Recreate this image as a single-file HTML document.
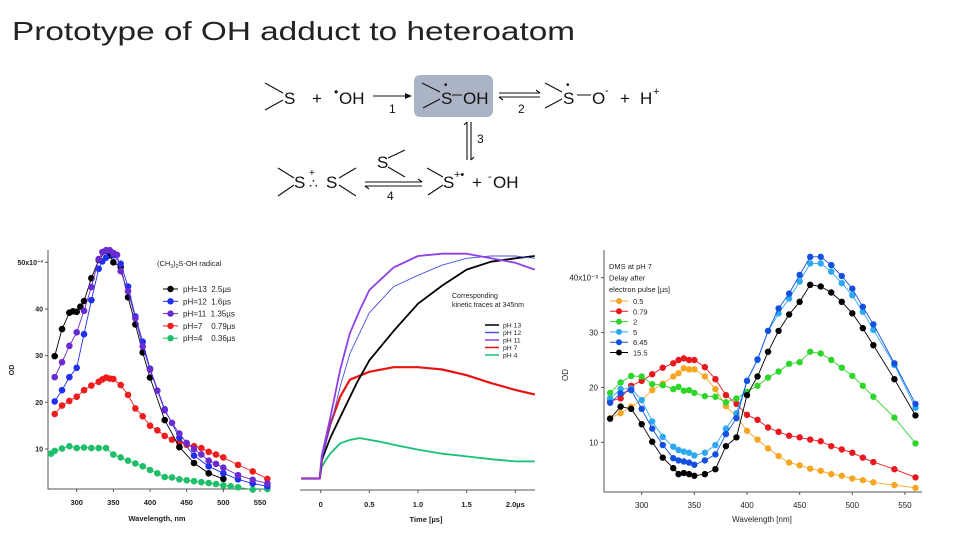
<!DOCTYPE html>
<html><head><meta charset="utf-8">
<style>
html,body{margin:0;padding:0;background:#fff;}
svg{display:block;font-family:"Liberation Sans",Arial,sans-serif;}
text{white-space:pre;}
</style></head>
<body>
<svg id="root" width="960" height="540" viewBox="0 0 960 540">
<text x="12" y="40" font-size="26" fill="#222" textLength="563" lengthAdjust="spacingAndGlyphs">Prototype of OH adduct to heteroatom</text>
<g id="scheme" font-size="17" fill="#111" stroke-width="1.1">
  <rect x="414" y="75" width="79" height="42" rx="6" fill="#aab4c6"/>
  <g stroke="#111" fill="none">
    <path d="M265 83 L283 93 M265 110 L283 100"/>
    <path d="M422 83 L440 92 M423 108 L440 99 M452 95 L462 95"/>
    <path d="M545 83 L562 92 M545 108 L562 99 M577 95 L591 95"/>
    <path d="M373 96 L410 96"/>
    <path d="M499 93 L540 93 M536 90 L540 93"/>
    <path d="M499 97 L540 97 M503 100 L499 97"/>
    <path d="M467 122 L467 160 M464 125 L467 122"/>
    <path d="M471 122 L471 160 M474 157 L471 160"/>
    <path d="M427 168 L443 177 M428 195 L443 185"/>
    <path d="M278 168 L294 178 M278 196 L294 185 M339 178 L356 168 M339 185 L356 196"/>
    <path d="M388 158 L405 150 M388 167 L405 177"/>
    <path d="M365 182 L422 182 M418 179 L422 182"/>
    <path d="M365 186 L422 186 M369 189 L365 186"/>
  </g>
  <polygon points="412,96 405,93 405,99" fill="#111"/>
  <text x="284" y="104">S</text>
  <text x="312" y="104">+</text>
  <text x="334" y="96" font-size="12">•</text>
  <text x="339" y="104">OH</text>
  <text x="389" y="113" font-size="12">1</text>
  <text x="441" y="104">S</text>
  <text x="444" y="88" font-size="10">•</text>
  <text x="463" y="104">OH</text>
  <text x="518" y="113" font-size="12">2</text>
  <text x="563" y="104">S</text>
  <text x="566" y="88" font-size="10">•</text>
  <text x="592" y="104">O</text>
  <text x="605" y="94" font-size="11">-</text>
  <text x="620" y="104">+</text>
  <text x="640" y="104">H</text>
  <text x="653" y="95" font-size="11">+</text>
  <text x="477" y="143" font-size="12">3</text>
  <text x="443" y="188">S</text>
  <text x="454" y="178" font-size="11">+•</text>
  <text x="472" y="188">+</text>
  <text x="488" y="180" font-size="11">-</text>
  <text x="493" y="188">OH</text>
  <text x="294" y="188">S</text>
  <text x="309" y="188" font-size="14">∴</text>
  <text x="309" y="176" font-size="10">+</text>
  <text x="326" y="188">S</text>
  <text x="377" y="168">S</text>
  <text x="387" y="200" font-size="12">4</text>
</g>
<g id="c1"></g>
<g id="c2"></g>
<g id="c3"></g>
</svg>
<script>
// ---------- Chart 1 data ----------
const c1Names = ["pH=13  2.5\u00b5s","pH=12  1.6\u00b5s","pH=11  1.35\u00b5s","pH=7    0.79\u00b5s","pH=4    0.36\u00b5s"];
const c1Colors = ["#000000","#1f2ff0","#6a2bd0","#ee1c1c","#1fbf6a"];
const c1XTicks = [300,350,400,450,500,550];
const c1YTicks = [10,20,30,40,50];
const c1W13 = [270,280,290,295,300,305,310,320,330,340,345,350,360,370,380,390,400,420,440,460,480,500];
const c1V13 = [29.9,35.7,39.2,39.5,39.4,40.5,41.7,46.6,50.5,52.5,51.5,50,49,42.5,36.7,30.7,25.3,16.2,10.4,7.0,4.8,3.6];
const c1W12 = [270,280,290,300,310,320,330,335,340,345,350,360,370,380,390,400,420,440,460,480,500,520,540,560];
const c1V12 = [20.2,22.6,25.4,27.4,34.6,41.9,48.6,50.2,51,52.5,51.5,49.7,44.8,38.4,33,27.2,18.5,12.4,8.6,6.3,4.8,3.5,2.6,2];
const c1W11 = [270,280,290,300,310,320,330,335,340,345,350,355,360,370,380,390,400,410,420,430,440,450,460,470,480,490,500,520,540,560];
const c1V11 = [25.4,28.6,32.1,35,39.6,44.7,50.7,52.2,52.6,52.6,52,51.6,48.1,43.8,38,32,27,22.5,18.3,15.6,13.3,11.3,10,8.8,7.5,6.8,6,4.4,3.4,2.6];
const c1W7 = [270,280,290,300,310,320,330,335,340,345,350,360,370,380,390,400,410,420,430,440,450,460,470,480,490,500,520,540,560];
const c1V7 = [17.5,19.3,20.3,21.2,22.6,23.6,24.4,24.9,25.3,25.1,25,23.7,21.6,18.7,17,15,14,12.8,12,11.4,10.9,10.6,10.2,9.4,8.8,8.2,6.6,5.2,3.6];
const c1W4 = [265,270,280,290,300,310,320,330,340,350,360,370,380,390,400,410,420,430,440,450,460,470,480,490,500,510,520,540,560];
const c1V4 = [9.0,9.6,10.1,10.6,10.2,10.3,10.2,10.2,10.2,8.8,8.2,7.5,6.9,6.3,5.5,4.8,4.0,3.9,3.5,3.3,3.1,2.9,2.7,2.5,2.2,2.0,1.8,1.3,1.4];

// ---------- Chart 2 data ----------
const c2Names = ["pH 13","pH 12","pH 11","pH 7","pH 4"];
const c2Colors = ["#000000","#4a52e0","#9040e8","#e81414","#18c07a"];
const c2XTicks = [0,0.5,1.0,1.5,2.0];
const c2XTickLabels = ["0","0.5","1.0","1.5","2.0\u00b5s"];
const c2T13 = [-0.2,-0.01,0.01,0.1,0.2,0.37,0.5,0.75,1.0,1.25,1.5,1.75,2.0,2.2];
const c2V13 = [0.02,0.02,0.1,0.2,0.29,0.44,0.54,0.67,0.79,0.87,0.94,0.975,0.99,1.0];
const c2T12 = [-0.2,-0.01,0.01,0.1,0.2,0.3,0.5,0.75,1.0,1.25,1.5,1.75,2.0,2.2];
const c2V12 = [0.02,0.02,0.1,0.25,0.425,0.57,0.75,0.865,0.915,0.96,0.99,1.0,1.0,0.99];
const c2T11 = [-0.2,-0.01,0.01,0.1,0.2,0.3,0.4,0.5,0.75,1.0,1.25,1.5,1.75,2.0,2.2];
const c2V11 = [0.02,0.02,0.12,0.29,0.5,0.66,0.76,0.85,0.95,1.0,1.01,1.01,0.99,0.97,0.94];
const c2T7 = [-0.2,-0.01,0.01,0.05,0.1,0.2,0.3,0.5,0.75,1.0,1.25,1.5,1.75,2.0,2.2];
const c2V7 = [0.02,0.02,0.1,0.18,0.26,0.38,0.455,0.49,0.51,0.51,0.5,0.475,0.44,0.41,0.39];
const c2T4 = [-0.2,-0.01,0.01,0.05,0.1,0.2,0.3,0.4,0.6,0.8,1.0,1.25,1.5,1.75,2.0,2.2];
const c2V4 = [0.02,0.02,0.07,0.1,0.13,0.175,0.19,0.198,0.183,0.164,0.147,0.129,0.117,0.105,0.095,0.095];

// ---------- Chart 3 data ----------
const c3Names = ["0.5","0.79","2","5","6.45","15.5"];
const c3Colors = ["#f5a623","#e8191e","#2fd62a","#2aa8f0","#1450e0","#000000"];
const c3XTicks = [300,350,400,450,500,550];
const c3YTicks = [10,20,30,40];
const c3W = [270,280,290,300,310,320,330,335,340,345,350,360,370,380,390,400,410,420,430,440,450,460,470,480,490,500,510,520,540,560];
const c3V05 = [14.4,15.3,16.5,17.7,19.5,20.7,22,22.6,23.5,23.3,23.3,22,19.7,16.6,14.7,12.1,10.5,8.9,7.5,6.3,5.8,5.2,4.8,4.2,3.9,3.4,3.1,2.7,2.2,1.7];
const c3V079 = [17.5,18,20.3,21.2,22.4,23.6,24.4,25,25.3,25,25,23.7,21.5,18.6,17,15,14.1,12.7,11.9,11.2,10.9,10.5,10.2,9.3,8.7,8.1,7.2,6.4,5.1,3.6];
const c3V2 = [19,20.9,22.1,22,20.6,20.4,19.7,20.1,19.4,19.5,19,18.4,18.3,17.3,18,19.2,20.3,21.8,22.9,24.3,24.6,26.5,26.2,25,23.6,22.1,20.3,18.3,14.5,9.8];
const c3V5 = [18,19.7,19.8,17.7,13.8,11,9.2,8.6,8.3,8.1,7.6,8.1,9.5,12.5,15.3,21.2,25,30.3,33.5,36.2,39.3,42.6,42.6,41.1,39,36.8,33.8,30.5,24.1,16.3];
const c3V645 = [17.2,18.9,19.5,16.1,12.5,9.5,7.1,6.7,6.5,6.3,5.9,6.7,7.8,11.5,14.4,21.2,25.1,30.3,34.4,37.1,40.5,43.8,43.8,42.3,40.3,38,34.7,31.5,24.4,17];
const c3V155 = [14.3,16.5,16.1,13.3,10.1,7.2,5.3,4.2,4.4,4.2,3.9,4.2,5.1,9.3,10.9,18.6,22,26.5,30.3,33.3,35.6,38.7,38.4,37.3,35.6,33.5,30.8,27.7,21.5,14.9];

const NS = "http://www.w3.org/2000/svg";
function mk(parent, tag, attrs, text){
  const e = document.createElementNS(NS, tag);
  for (const k in attrs) e.setAttribute(k, attrs[k]);
  if (text !== undefined) e.textContent = text;
  parent.appendChild(e);
  return e;
}
function pathFrom(xs, ys, fx, fy){
  return xs.map((x,i)=>(i?"L":"M")+fx(x).toFixed(1)+" "+fy(ys[i]).toFixed(1)).join(" ");
}

// ===== Chart 1 =====
(function(){
  const g = document.getElementById("c1");
  const fx = w => 76.7 + (w-300)*0.7333;
  const fy = v => 449 - (v-10)*4.667;
  const ax = mk(g,"path",{d:"M48 250 L48 489 L268 489",stroke:"#555",fill:"none","stroke-width":"1"});
  
  
  c1XTicks.forEach(t=>{
    const l = mk(g,"line",{x1:fx(t),x2:fx(t),y1:489,y2:492,stroke:"#555"});
    
    
    const tx = mk(g,"text",{x:fx(t),y:505,"font-size":"7.5","font-weight":"bold","text-anchor":"middle",fill:"#222"},String(t));
    
    
  });
  c1YTicks.forEach(t=>{
    const l = mk(g,"line",{x1:45,x2:48,y1:fy(t),y2:fy(t),stroke:"#555"});
    
    
    const tx = mk(g,"text",{x:43,y:fy(t)+2.5,"font-size":"7","font-weight":"bold","text-anchor":"end",fill:"#222"},t===50?"50x10\u207b\u00b3":String(t));
    
    
  });
  const yt = mk(g,"text",{x:14,y:370,"font-size":"7","font-weight":"bold","text-anchor":"middle",transform:"rotate(-90 14 370)",fill:"#222"},"OD");
  
  
  const xt = mk(g,"text",{x:157,y:521,"font-size":"7.5","font-weight":"bold","text-anchor":"middle",fill:"#222"},"Wavelength, nm");
  
  
  const W = [c1W13,c1W12,c1W11,c1W7,c1W4], V = [c1V13,c1V12,c1V11,c1V7,c1V4];
  [4,3,0,1,2].forEach(i=>{
    const s = mk(g,"g",{});
    
    
    mk(s,"path",{d:pathFrom(W[i],V[i],fx,fy),stroke:c1Colors[i],fill:"none","stroke-width":"0.9"});
    W[i].forEach((w,j)=>{
      const c = mk(s,"circle",{cx:fx(w),cy:fy(V[i][j]),r:3.3,fill:c1Colors[i]});
      
      
    });
  });
  const tt = mk(g,"text",{x:157,y:266,"font-size":"7.5",fill:"#222"});
  
  
  tt.innerHTML = '(CH<tspan font-size="5" dy="2">3</tspan><tspan dy="-2">)</tspan><tspan font-size="5" dy="2">2</tspan><tspan dy="-2">S-OH radical</tspan>';
  c1Names.forEach((n,i)=>{
    const y = 289 + i*12.3;
    const le = mk(g,"g",{});
    
    
    mk(le,"line",{x1:163,x2:178,y1:y,y2:y,stroke:c1Colors[i]});
    mk(le,"circle",{cx:170.5,cy:y,r:3.2,fill:c1Colors[i]});
    mk(le,"text",{x:183,y:y+3,"font-size":"8",fill:"#222"},n);
  });
})();

// ===== Chart 2 =====
(function(){
  const g = document.getElementById("c2");
  const fx = t => 320.7 + t*97.3;
  const fy = v => 483 - v*227;
  const ax = mk(g,"line",{x1:300,x2:535,y1:490,y2:490,stroke:"#555"});
  
  
  c2XTicks.forEach((t,i)=>{
    const l = mk(g,"line",{x1:fx(t),x2:fx(t),y1:490,y2:493,stroke:"#555"});
    
    
    const tx = mk(g,"text",{x:fx(t),y:507,"font-size":"7.5","font-weight":"bold","text-anchor":"middle",fill:"#222"},c2XTickLabels[i]);
    
    
  });
  const xt = mk(g,"text",{x:426,y:522,"font-size":"7.5","font-weight":"bold","text-anchor":"middle",fill:"#222"},"Time [\u00b5s]");
  
  
  const T = [c2T13,c2T12,c2T11,c2T7,c2T4], V = [c2V13,c2V12,c2V11,c2V7,c2V4];
  const widths = [1.8,0.9,1.8,2.2,1.8];
  [4,3,0,1,2].forEach(i=>{
    const p = mk(g,"path",{d:pathFrom(T[i],V[i],fx,fy),stroke:c2Colors[i],fill:"none","stroke-width":widths[i],"stroke-linejoin":"round"});
    
    
  });
  const a = mk(g,"text",{x:452,y:298,"font-size":"7",fill:"#222"},"Corresponding");
  
  
  const b = mk(g,"text",{x:452,y:307,"font-size":"7",fill:"#222"},"kinetic traces at 345nm");
  
  
  c2Names.forEach((n,i)=>{
    const y = 325 + i*7.5;
    const le = mk(g,"g",{});
    
    
    mk(le,"line",{x1:485,x2:499,y1:y,y2:y,stroke:c2Colors[i],"stroke-width":"1.5"});
    mk(le,"text",{x:503,y:y+2.5,"font-size":"6.8",fill:"#222"},n);
  });
})();

// ===== Chart 3 =====
(function(){
  const g = document.getElementById("c3");
  const fx = w => 641.7 + (w-300)*1.053;
  const fy = v => 442.3 - (v-10)*5.487;
  const ax = mk(g,"path",{d:"M604 250 L604 492 L922 492",stroke:"#555",fill:"none"});
  
  
  c3XTicks.forEach(t=>{
    const l = mk(g,"line",{x1:fx(t),x2:fx(t),y1:492,y2:495,stroke:"#555"});
    
    
    const tx = mk(g,"text",{x:fx(t),y:508,"font-size":"8","text-anchor":"middle",fill:"#222"},String(t));
    
    
  });
  c3YTicks.forEach(t=>{
    const l = mk(g,"line",{x1:601,x2:604,y1:fy(t),y2:fy(t),stroke:"#555"});
    
    
    const tx = mk(g,"text",{x:598,y:fy(t)+3,"font-size":"8","text-anchor":"end",fill:"#222"},t===40?"40x10\u207b\u00b3":String(t));
    
    
  });
  const yt = mk(g,"text",{x:568,y:375,"font-size":"8","text-anchor":"middle",transform:"rotate(-90 568 375)",fill:"#222"},"OD");
  
  
  const xt = mk(g,"text",{x:762,y:522,"font-size":"8","text-anchor":"middle",fill:"#222"},"Wavelength [nm]");
  
  
  const V = [c3V05,c3V079,c3V2,c3V5,c3V645,c3V155];
  [0,1,2,3,4,5].forEach(i=>{
    const s = mk(g,"g",{});
    
    
    mk(s,"path",{d:pathFrom(c3W,V[i],fx,fy),stroke:c3Colors[i],fill:"none","stroke-width":"0.9"});
    c3W.forEach((w,j)=>{
      const c = mk(s,"circle",{cx:fx(w),cy:fy(V[i][j]),r:3.2,fill:c3Colors[i]});
      
      
    });
  });
  ["DMS at pH 7","Delay after","electron pulse [\u00b5s]"].forEach((s,i)=>{
    const t = mk(g,"text",{x:609,y:269+i*11.5,"font-size":"7.5",fill:"#222"},s);
    
    
  });
  c3Names.forEach((n,i)=>{
    const y = 301 + i*10.3;
    const le = mk(g,"g",{});
    
    
    mk(le,"line",{x1:610,x2:628,y1:y,y2:y,stroke:c3Colors[i]});
    mk(le,"circle",{cx:619,cy:y,r:3,fill:c3Colors[i]});
    mk(le,"text",{x:633,y:y+3,"font-size":"7.5",fill:"#222"},n);
  });
})();
</script>
</body></html>
